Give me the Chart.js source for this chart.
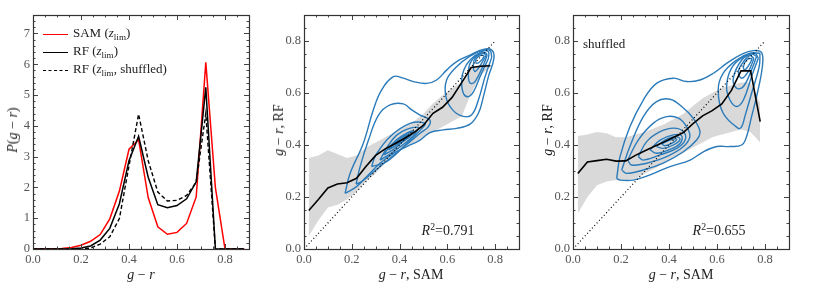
<!DOCTYPE html>
<html>
<head>
<meta charset="utf-8">
<script src="https://cdn.jsdelivr.net/npm/chart.js@4.4.1/dist/chart.umd.min.js"></script>
<style>
  body { margin:0; background:#fff; width:830px; height:294px; overflow:hidden; position:relative;
         font-family:'Liberation Serif','DejaVu Serif',serif; color:#222; }
  .pan { position:absolute; top:0; }
  .txt { position:absolute; white-space:nowrap; font-size:14px; line-height:1; }
  .rot { transform:translate(-50%,-50%) rotate(-90deg); }
  .ctr { transform:translate(-50%,-50%); }
  .leg { position:absolute; left:43px; font-size:13px; line-height:1; white-space:nowrap; }
  .leg span.ln { display:inline-block; width:25px; vertical-align:middle; margin-right:5px; }
  sub { font-size:70%; vertical-align:-3px; line-height:0; }
  sup { font-size:70%; vertical-align:5px; line-height:0; }
</style>
</head>
<body>
<canvas id="c1" class="pan" style="left:0" width="270" height="294"></canvas>
<canvas id="c2" class="pan" style="left:270px" width="270" height="294"></canvas>
<canvas id="c3" class="pan" style="left:540px" width="290" height="294"></canvas>

<div class="leg" style="top:26px"><span class="ln" style="border-top:1.6px solid #f00"></span>SAM (<i>z</i><sub>lim</sub>)</div>
<div class="leg" style="top:44px"><span class="ln" style="border-top:1.6px solid #000"></span>RF (<i>z</i><sub>lim</sub>)</div>
<div class="leg" style="top:62px"><span class="ln" style="border-top:1.5px dashed #000"></span>RF (<i>z</i><sub>lim</sub>, shuffled)</div>

<div class="txt ctr" style="left:141px;top:275px"><i>g</i> − <i>r</i></div>
<div class="txt rot" style="left:13px;top:130px"><i>P</i>(<i>g</i> − <i>r</i>)</div>
<div class="txt ctr" style="left:411px;top:275px"><i>g</i> − <i>r</i>, SAM</div>
<div class="txt rot" style="left:279px;top:130px"><i>g</i> − <i>r</i>, RF</div>
<div class="txt ctr" style="left:681px;top:275px"><i>g</i> − <i>r</i>, SAM</div>
<div class="txt rot" style="left:548px;top:130px"><i>g</i> − <i>r</i>, RF</div>
<div class="txt ctr" style="left:448px;top:231px"><i>R</i><sup>2</sup>=0.791</div>
<div class="txt ctr" style="left:719px;top:231px"><i>R</i><sup>2</sup>=0.655</div>
<div class="txt" style="left:583px;top:37px;font-size:13px">shuffled</div>

<script>
// ---- left panel: P(g-r)
const grBins = [0,0.04,0.08,0.12,0.16,0.20,0.24,0.28,0.32,0.36,0.40,0.44,0.48,0.52,0.56,0.60,0.64,0.68,0.72,0.76,0.80,0.84,0.88];
const samP    = [0,0.005,0.01,0.02,0.05,0.12,0.25,0.47,0.98,1.88,3.24,3.55,1.67,0.72,0.48,0.54,0.83,1.69,6.06,1.99,0,0,0];
const rfP     = [0,0,0,0,0.01,0.03,0.10,0.29,0.67,1.47,2.87,3.66,2.33,1.44,1.34,1.41,1.63,2.18,5.25,0,0,0,0];
const rfShufP = [0,0,0,0,0,0.01,0.03,0.16,0.40,0.99,2.70,4.38,2.87,1.85,1.56,1.58,1.74,2.17,4.40,0,0,0,0];

// ---- binned median and spread, middle / right
const binX = [0.02,0.06,0.10,0.14,0.18,0.22,0.26,0.30,0.34,0.38,0.42,0.46,0.50,0.54,0.58,0.62,0.66,0.70,0.74,0.78];
const midMed = [0.148,0.19,0.235,0.25,0.255,0.272,0.318,0.36,0.385,0.405,0.425,0.448,0.476,0.522,0.545,0.583,0.64,0.698,0.703,0.705];
const midHi  = [0.35,0.36,0.38,0.365,0.35,0.36,0.39,0.41,0.43,0.45,0.47,0.49,0.52,0.56,0.59,0.62,0.64,0.69,0.71,0.71];
const midLo  = [0.05,0.11,0.16,0.17,0.19,0.22,0.26,0.29,0.33,0.36,0.39,0.41,0.43,0.45,0.47,0.49,0.51,0.60,0.67,0.70];
const shufMed = [0.29,0.335,0.34,0.345,0.338,0.339,0.36,0.378,0.395,0.412,0.43,0.448,0.482,0.512,0.532,0.558,0.61,0.685,0.685,0.49];
const shufHi  = [0.435,0.44,0.45,0.445,0.43,0.43,0.44,0.45,0.465,0.48,0.50,0.52,0.55,0.58,0.60,0.62,0.63,0.64,0.64,0.56];
const shufLo  = [0.137,0.20,0.245,0.26,0.265,0.265,0.27,0.29,0.31,0.33,0.35,0.37,0.39,0.41,0.43,0.44,0.45,0.46,0.45,0.41];
const oneToOne = [[0,0],[0.8,0.8]];

// ---- density contours (x SAM, y RF)
const midContours = [
  [[0.172,0.214],[0.193,0.291],[0.248,0.406],[0.290,0.535],[0.325,0.612],[0.374,0.663],[0.416,0.657],[0.458,0.644],[0.514,0.637],[0.555,0.650],[0.597,0.688],[0.639,0.721],[0.695,0.746],[0.751,0.768],[0.786,0.765],[0.795,0.733],[0.772,0.663],[0.751,0.586],[0.730,0.522],[0.695,0.480],[0.639,0.464],[0.583,0.458],[0.527,0.448],[0.486,0.419],[0.430,0.394],[0.374,0.368],[0.318,0.330],[0.262,0.278],[0.220,0.240],[0.172,0.214]],
  [[0.218,0.25],[0.235,0.317],[0.270,0.419],[0.312,0.515],[0.360,0.554],[0.416,0.558],[0.451,0.535],[0.486,0.515],[0.527,0.496],[0.52,0.47],[0.486,0.445],[0.402,0.381],[0.318,0.317],[0.241,0.259],[0.218,0.25]],
  [[0.283,0.317],[0.30,0.36],[0.36,0.432],[0.444,0.483],[0.506,0.483],[0.49,0.46],[0.43,0.406],[0.346,0.336],[0.283,0.317]],
  [[0.318,0.342],[0.35,0.395],[0.388,0.438],[0.43,0.46],[0.478,0.468],[0.47,0.45],[0.44,0.42],[0.374,0.374],[0.318,0.342]],
  [[0.332,0.362],[0.37,0.405],[0.41,0.435],[0.458,0.455],[0.45,0.44],[0.41,0.41],[0.37,0.38],[0.332,0.362]],
  [[0.353,0.381],[0.39,0.415],[0.425,0.438],[0.451,0.447],[0.44,0.43],[0.405,0.41],[0.37,0.39],[0.353,0.381]],
  [[0.374,0.40],[0.405,0.42],[0.437,0.44],[0.43,0.428],[0.40,0.41],[0.374,0.40]],
  [[0.786,0.737],[0.779,0.763],[0.751,0.765],[0.695,0.742],[0.639,0.701],[0.597,0.650],[0.594,0.586],[0.622,0.535],[0.667,0.510],[0.702,0.516],[0.730,0.573],[0.758,0.663],[0.786,0.737]],
  [[0.772,0.733],[0.772,0.759],[0.744,0.759],[0.695,0.727],[0.67,0.69],[0.660,0.650],[0.667,0.599],[0.688,0.586],[0.709,0.604],[0.737,0.663],[0.772,0.733]],
  [[0.767,0.746],[0.758,0.756],[0.723,0.746],[0.695,0.714],[0.688,0.670],[0.695,0.638],[0.716,0.644],[0.751,0.708],[0.767,0.746]],
  [[0.763,0.746],[0.748,0.753],[0.716,0.734],[0.709,0.695],[0.718,0.683],[0.744,0.715],[0.763,0.746]],
  [[0.755,0.744],[0.737,0.744],[0.720,0.730],[0.723,0.714],[0.744,0.727],[0.755,0.744]]
];
const shufContours = [
  [[0.182,0.272],[0.196,0.355],[0.237,0.47],[0.293,0.573],[0.348,0.637],[0.418,0.657],[0.473,0.644],[0.529,0.650],[0.585,0.676],[0.640,0.714],[0.696,0.746],[0.751,0.763],[0.786,0.755],[0.789,0.702],[0.768,0.599],[0.744,0.509],[0.723,0.432],[0.703,0.400],[0.654,0.394],[0.599,0.394],[0.543,0.374],[0.488,0.342],[0.404,0.317],[0.321,0.285],[0.251,0.265],[0.196,0.265],[0.182,0.272]],
  [[0.203,0.304],[0.237,0.394],[0.293,0.509],[0.348,0.567],[0.404,0.576],[0.453,0.548],[0.501,0.503],[0.529,0.452],[0.515,0.419],[0.46,0.374],[0.376,0.33],[0.293,0.304],[0.223,0.291],[0.203,0.304]],
  [[0.228,0.342],[0.272,0.419],[0.335,0.484],[0.39,0.509],[0.439,0.503],[0.473,0.471],[0.487,0.432],[0.46,0.394],[0.39,0.355],[0.307,0.33],[0.244,0.323],[0.228,0.342]],
  [[0.272,0.355],[0.307,0.413],[0.363,0.451],[0.418,0.465],[0.46,0.452],[0.467,0.419],[0.432,0.387],[0.363,0.362],[0.293,0.342],[0.272,0.355]],
  [[0.321,0.381],[0.363,0.419],[0.418,0.439],[0.453,0.435],[0.446,0.406],[0.404,0.383],[0.348,0.368],[0.321,0.381]],
  [[0.348,0.394],[0.383,0.419],[0.425,0.432],[0.446,0.422],[0.418,0.4],[0.376,0.387],[0.348,0.394]],
  [[0.369,0.404],[0.404,0.419],[0.432,0.422],[0.411,0.406],[0.383,0.397],[0.369,0.404]],
  [[0.779,0.753],[0.738,0.753],[0.682,0.727],[0.626,0.676],[0.605,0.612],[0.626,0.522],[0.689,0.464],[0.703,0.471],[0.716,0.509],[0.744,0.599],[0.776,0.702],[0.779,0.753]],
  [[0.772,0.733],[0.758,0.753],[0.71,0.74],[0.66,0.695],[0.640,0.625],[0.654,0.573],[0.682,0.548],[0.710,0.573],[0.744,0.663],[0.772,0.733]],
  [[0.765,0.74],[0.744,0.75],[0.703,0.727],[0.668,0.657],[0.682,0.618],[0.71,0.625],[0.744,0.689],[0.765,0.74]],
  [[0.754,0.733],[0.737,0.744],[0.71,0.72],[0.689,0.682],[0.703,0.657],[0.730,0.682],[0.754,0.733]],
  [[0.747,0.733],[0.726,0.730],[0.71,0.702],[0.716,0.689],[0.737,0.714],[0.747,0.733]]
];

const FONT = "'Liberation Serif','DejaVu Serif',serif";
const BLUE = '#2b7bba';
const GREY = '#d9d9d9';

function pts(xs, ys) { return xs.map((x, i) => ({x: x, y: ys[i]})); }
function pairs(a) { return a.map(p => ({x: p[0], y: p[1]})); }

// frame + inward major/minor ticks on all four sides, matplotlib style
const frameTicks = {
  id: 'frameTicks',
  afterDatasetsDraw(chart, args, o) {
    const {ctx, chartArea: a, scales} = chart;
    ctx.save();
    ctx.strokeStyle = '#444';
    ctx.lineWidth = 1;
    const marks = (sc, step, len, horiz) => {
      const n = Math.floor((sc.max - sc.min) / step + 1e-6);
      for (let i = 0; i <= n; i++) {
        const p = Math.round(sc.getPixelForValue(sc.min + i * step)) + 0.5;
        ctx.beginPath();
        if (horiz) {
          ctx.moveTo(p, a.bottom); ctx.lineTo(p, a.bottom - len);
          ctx.moveTo(p, a.top); ctx.lineTo(p, a.top + len);
        } else {
          ctx.moveTo(a.left, p); ctx.lineTo(a.left + len, p);
          ctx.moveTo(a.right, p); ctx.lineTo(a.right - len, p);
        }
        ctx.stroke();
      }
    };
    marks(scales.x, o.xMinor, 2.5, true);
    marks(scales.x, o.xMajor, 5, true);
    marks(scales.y, o.yMinor, 2.5, false);
    marks(scales.y, o.yMajor, 5, false);
    ctx.lineWidth = 1.2;
    ctx.strokeStyle = '#333';
    ctx.strokeRect(Math.round(a.left) + 0.5, Math.round(a.top) + 0.5, Math.round(a.width), Math.round(a.height));
    ctx.restore();
  }
};

function axes(yMax, yStep, yDigits, yWidth) {
  const tickFont = {family: FONT, size: 12.5};
  return {
    x: {
      type: 'linear', min: 0, max: 0.9,
      grid: {display: false, drawTicks: false}, border: {display: false},
      ticks: {stepSize: 0.2, includeBounds: false, maxRotation: 0, padding: 3, color: '#555', font: tickFont,
              callback: v => v.toFixed(1)},
      afterFit: s => { s.height = 45; }
    },
    y: {
      type: 'linear', min: 0, max: yMax,
      grid: {display: false, drawTicks: false}, border: {display: false},
      ticks: {stepSize: yStep, includeBounds: false, padding: 3, color: '#555', font: tickFont,
              callback: v => v.toFixed(yDigits)},
      afterFit: s => { s.width = yWidth; }
    }
  };
}

function baseOptions(yMax, yStep, yDigits, yWidth, rightPad, ticks) {
  return {
    responsive: false, animation: false,
    layout: {padding: {top: 15, right: rightPad, left: 0, bottom: 0}},
    scales: axes(yMax, yStep, yDigits, yWidth),
    plugins: {legend: {display: false}, tooltip: {enabled: false},
              filler: {drawTime: 'beforeDatasetsDraw'}, frameTicks: ticks},
    elements: {point: {radius: 0}}
  };
}

// left panel
new Chart(document.getElementById('c1').getContext('2d'), {
  type: 'line',
  data: {datasets: [
    {label: 'RF (zlim)', data: pts(grBins, rfP), borderColor: '#000', borderWidth: 1.5, tension: 0},
    {label: 'RF (zlim, shuffled)', data: pts(grBins, rfShufP), borderColor: '#000', borderWidth: 1.4, borderDash: [4, 2.5], tension: 0},
    {label: 'SAM (zlim)', data: pts(grBins, samP), borderColor: '#f00', borderWidth: 1.5, tension: 0}
  ]},
  options: baseOptions(7.6, 1, 0, 33, 21, {xMajor: 0.2, xMinor: 0.05, yMajor: 1, yMinor: 0.2}),
  plugins: [frameTicks]
});

function scatterPanel(id, med, lo, hi, contours, yWidth, rightPad) {
  const ds = [
    {data: pts(binX, med), borderColor: '#000', borderWidth: 1.6, tension: 0},
    {data: pairs(oneToOne), borderColor: '#000', borderWidth: 1.2, borderDash: [1, 2.5], tension: 0}
  ];
  contours.forEach(c => ds.push({data: pairs(c), borderColor: BLUE, borderWidth: 1.4, tension: 0.4}));
  ds.push({data: pts(binX, lo), borderColor: 'rgba(0,0,0,0)', borderWidth: 0, tension: 0, fill: false});
  ds.push({data: pts(binX, hi), borderColor: 'rgba(0,0,0,0)', borderWidth: 0, tension: 0, fill: '-1', backgroundColor: GREY});
  new Chart(document.getElementById(id).getContext('2d'), {
    type: 'line',
    data: {datasets: ds},
    options: baseOptions(0.9, 0.2, 1, yWidth, rightPad, {xMajor: 0.2, xMinor: 0.05, yMajor: 0.2, yMinor: 0.05}),
    plugins: [frameTicks]
  });
}

scatterPanel('c2', midMed, midLo, midHi, midContours, 34, 21);
scatterPanel('c3', shufMed, shufLo, shufHi, shufContours, 33, 41);
</script>
</body>
</html>
